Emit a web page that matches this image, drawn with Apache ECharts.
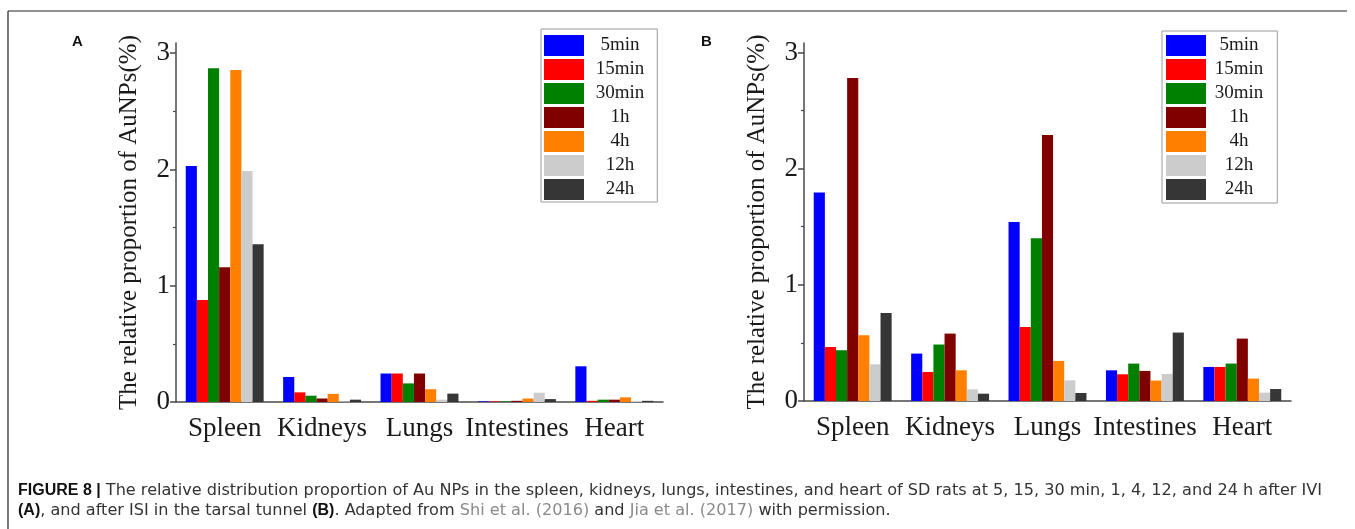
<!DOCTYPE html>
<html>
<head>
<meta charset="utf-8">
<script src="https://cdn.jsdelivr.net/npm/echarts@6/dist/echarts.min.js"></script>
<style>
html,body{margin:0;padding:0;background:#fff;}
#chart{width:1355px;height:529px;}
</style>
</head>
<body>
<div id="chart"></div>
<script>
// ---- data ----
const categories = ['Spleen', 'Kidneys', 'Lungs', 'Intestines', 'Heart'];
const seriesNames = ['5min', '15min', '30min', '1h', '4h', '12h', '24h'];
const yTicks = [0, 1, 2, 3];
const yMinorTicks = [0.5, 1.5, 2.5];

// Panel A (after IVI)
const a5min  = [2.03, 0.215, 0.245, 0.005, 0.307];
const a15min = [0.877, 0.083, 0.245, 0.005, 0.010];
const a30min = [2.87, 0.054, 0.160, 0.005, 0.020];
const a1h    = [1.158, 0.030, 0.245, 0.010, 0.020];
const a4h    = [2.855, 0.070, 0.110, 0.030, 0.040];
const a12h   = [1.986, 0.005, 0.020, 0.080, 0.010];
const a24h   = [1.356, 0.020, 0.072, 0.025, 0.010];

// Panel B (after ISI in the tarsal tunnel)
const b5min  = [1.795, 0.408, 1.540, 0.264, 0.293];
const b15min = [0.465, 0.250, 0.637, 0.230, 0.293];
const b30min = [0.437, 0.486, 1.400, 0.322, 0.322];
const b1h    = [2.780, 0.580, 2.290, 0.259, 0.537];
const b4h    = [0.566, 0.264, 0.345, 0.176, 0.193];
const b12h   = [0.316, 0.100, 0.178, 0.233, 0.072];
const b24h   = [0.758, 0.063, 0.069, 0.589, 0.103];

const panelA = [a5min, a15min, a30min, a1h, a4h, a12h, a24h];
const panelB = [b5min, b15min, b30min, b1h, b4h, b12h, b24h];

// ---- styles ----
const colors = ['#0000ff', '#ff0000', '#008000', '#800000', '#ff8000', '#cccccc', '#363636'];
const SERIF = "'Liberation Serif', 'Times New Roman', serif";
const SANS = "'DejaVu Sans', 'Liberation Sans', Arial, sans-serif";
const SANS_B = "'Liberation Sans', Arial, sans-serif";
const AXIS_COLOR = '#4a4a4a';

function xAxes(gridIndex) {
  return [{
    type: 'category', gridIndex, data: categories, boundaryGap: true,
    axisLine: {lineStyle: {color: AXIS_COLOR, width: 1.5}},
    axisTick: {alignWithLabel: true, length: 6, lineStyle: {color: AXIS_COLOR, width: 1.5}},
    axisLabel: {interval: 0, margin: 13, fontFamily: SERIF, fontSize: 27, color: '#1a1a1a'},
    splitLine: {show: false}
  }, {
    type: 'category', gridIndex, data: categories, boundaryGap: true, position: 'bottom',
    axisLine: {show: false},
    axisTick: {alignWithLabel: false, length: 3, lineStyle: {color: AXIS_COLOR, width: 1.2}},
    axisLabel: {show: false},
    splitLine: {show: false}
  }];
}

function yAxes(gridIndex, max) {
  return [{
    type: 'value', gridIndex, min: 0, max: max, interval: 1,
    name: 'The relative proportion of AuNPs(%)',
    nameLocation: 'middle', nameGap: 34,
    nameTextStyle: {fontFamily: SERIF, fontSize: 25, color: '#1a1a1a'},
    axisLine: {show: true, lineStyle: {color: AXIS_COLOR, width: 1.5}},
    axisTick: {show: true, length: 6, customValues: yTicks, lineStyle: {color: AXIS_COLOR, width: 1.5}},
    axisLabel: {customValues: yTicks, margin: 6, fontFamily: SERIF, fontSize: 27, color: '#1a1a1a'},
    splitLine: {show: false}
  }, {
    type: 'value', gridIndex, min: 0, max: max, position: 'left',
    axisLine: {show: false},
    axisTick: {show: true, length: 3, customValues: yMinorTicks, lineStyle: {color: AXIS_COLOR, width: 1.2}},
    axisLabel: {show: false, customValues: yMinorTicks},
    splitLine: {show: false}
  }];
}

function legendFor(left, top, padding, textW) {
  return {
    left, top, orient: 'vertical', icon: 'rect',
    itemWidth: 40, itemHeight: 21, itemGap: 3,
    padding, borderColor: '#9a9a9a', borderWidth: 1,
    selectedMode: false,
    data: seriesNames,
    formatter: n => '{t|' + n + '}',
    textStyle: {
      fontFamily: SERIF, fontSize: 19, color: '#1a1a1a',
      rich: {t: {width: textW, align: 'center', fontFamily: SERIF, fontSize: 19, color: '#1a1a1a'}}
    }
  };
}

const series = [];
[panelA, panelB].forEach((panel, p) => {
  panel.forEach((vals, i) => {
    series.push({
      type: 'bar', name: seriesNames[i],
      xAxisIndex: p * 2, yAxisIndex: p * 2,
      data: vals,
      barGap: '0%', barCategoryGap: '20%',
      itemStyle: {color: colors[i]},
      emphasis: {disabled: true}
    });
  });
});

const captionText =
  '{b|FIGURE 8 |} The relative distribution proportion of Au NPs in the spleen, kidneys, lungs, intestines, and heart of SD rats at 5, 15, 30 min, 1, 4, 12, and 24 h after IVI\n' +
  '{b|(A)}, and after ISI in the tarsal tunnel {b|(B)}. Adapted from {l|Shi et al. (2016)} and {l|Jia et al. (2017)} with permission.';

const option = {
  animation: false,
  backgroundColor: '#ffffff',
  color: colors,
  grid: [
    {left: 176, top: 43, width: 487, height: 359, outerBoundsMode: 'none'},
    {left: 804, top: 43, width: 487, height: 358, outerBoundsMode: 'none'}
  ],
  xAxis: [...xAxes(0), ...xAxes(1)],
  yAxis: [...yAxes(0, 3.087), ...yAxes(1, 3.081)],
  legend: [
    legendFor(541, 29, [6, 13, 2, 3], 62),
    legendFor(1162, 31, [4, 14, 3, 4], 56)
  ],
  series,
  graphic: [
    {type: 'line', shape: {x1: 8, y1: 11, x2: 1347, y2: 11}, style: {stroke: '#222', lineWidth: 1.2}},
    {type: 'line', shape: {x1: 8, y1: 11, x2: 8, y2: 529}, style: {stroke: '#222', lineWidth: 1.2}},
    {type: 'text', left: 72, top: 34, style: {text: 'A', font: 'bold 15px ' + SANS_B, fill: '#111'}},
    {type: 'text', left: 701, top: 34, style: {text: 'B', font: 'bold 15px ' + SANS_B, fill: '#111'}},
    {type: 'text', left: 18, top: 481, style: {
      text: captionText,
      fontFamily: SANS, fontSize: 16.1, fill: '#333333', lineHeight: 20,
      rich: {
        b: {fontFamily: SANS_B, fontSize: 16, fontWeight: 'bold', fill: '#111', lineHeight: 20},
        l: {fontFamily: SANS, fontSize: 16.1, fill: '#8a8a8a', lineHeight: 20}
      }
    }}
  ]
};

const chart = echarts.init(document.getElementById('chart'), null, {renderer: 'canvas'});
chart.setOption(option);
</script>
</body>
</html>
